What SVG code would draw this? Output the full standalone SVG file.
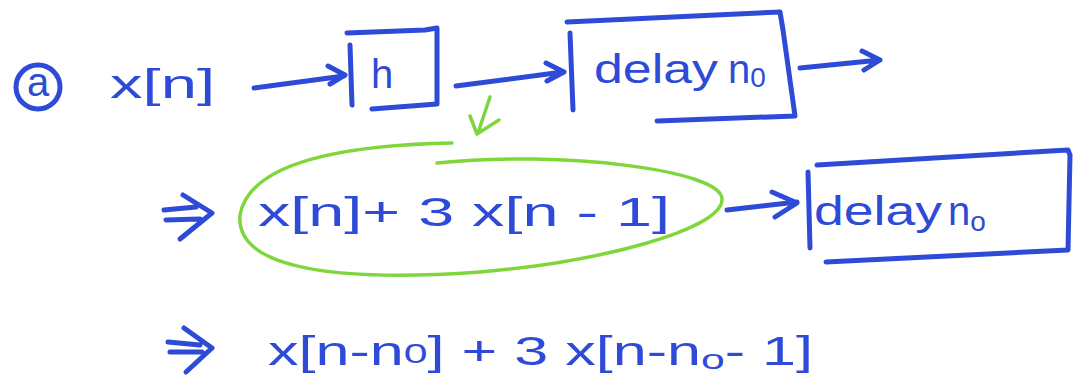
<svg xmlns="http://www.w3.org/2000/svg" width="1074" height="388" viewBox="0 0 1074 388">
<style>
.t{font-family:"Liberation Sans",Arial,sans-serif;fill:#2d4bd6;font-size:40px}
.s{font-size:28px}
.ln{fill:none;stroke:#2d4bd6;stroke-width:5;stroke-linecap:round;stroke-linejoin:round}
.g{fill:none;stroke:#7fd63c;stroke-width:3.5;stroke-linecap:round;stroke-linejoin:round}
</style>
<rect width="1074" height="388" fill="#fff"/>
<g id="label-a">
<circle cx="38" cy="87" r="22" class="ln" stroke-width="4.5"/>
<text x="38" y="96" class="t" font-size="26" text-anchor="middle">a</text>
</g>
<g id="xn">
<text x="110" y="98" class="t" font-size="50" textLength="105" lengthAdjust="spacingAndGlyphs">x[n]</text>
</g>
<g id="box-h">
<path class="ln" d="M350 45 L352 105 M347 33 L425 30 L437 28 L437 104 L372 109"/>
<text x="371" y="88" class="t" font-size="56">h</text>
</g>
<g id="box-delay1">
<path class="ln" d="M570 33 L573 110 M567 22 L780 12 L783 30 L795 116 L657 121"/>
<text x="594" y="83" class="t" font-size="46" textLength="124" lengthAdjust="spacingAndGlyphs">delay</text>
<text x="728" y="83" class="t" font-size="40">n<tspan class="s" dy="4">0</tspan></text>
</g>
<g id="sum">
<path class="ln" d="M164 210 L196 207 M166 220 L200 219 M183 195 L212 213 L180 239"/>
<text x="258" y="226" class="t" font-size="52" textLength="412" lengthAdjust="spacingAndGlyphs">x[n]+ 3 x[n - 1]</text>
</g>
<g id="box-delay2">
<path class="ln" d="M808 172 L810 248 M817 165 L1068 150 L1070 155 L1068 250 L826 262"/>
<text x="814" y="225" class="t" font-size="52" textLength="128" lengthAdjust="spacingAndGlyphs">delay</text>
<text x="948" y="225" class="t" font-size="46">n<tspan class="s" dy="6">o</tspan></text>
</g>
<g id="result">
<path class="ln" d="M168 342 L200 345 M170 352 L202 352 M184 328 L212 348 M212 348 L186 372"/>
<text x="268" y="365" class="t" font-size="50" textLength="545" lengthAdjust="spacingAndGlyphs">x[n-n<tspan class="s" dy="-2">0</tspan><tspan dy="2">] + 3 x[n-n</tspan><tspan class="s" dy="4">o</tspan><tspan dy="-4">- 1]</tspan></text>
</g>
<g id="connectors">
<path class="ln" d="M254 88 L344 76 M328 66 L345 75 L330 84"/>
<path class="ln" d="M456 86 L563 72 M546 63 L564 72 L547 81"/>
<path class="ln" d="M800 68 L880 60 M862 51 L880 60 L864 70"/>
<path class="ln" d="M727 210 L797 202 M772 192 L797 203 L775 217"/>
<path class="g" d="M490 97 L478 133 M470 116 L477 134 L499 120"/>
<path class="g" d="M452 143 C350 145 250 160 240 215 C235 270 340 282 480 272 C600 262 720 230 722 200 C725 170 560 150 437 163"/>
</g>
</svg>
